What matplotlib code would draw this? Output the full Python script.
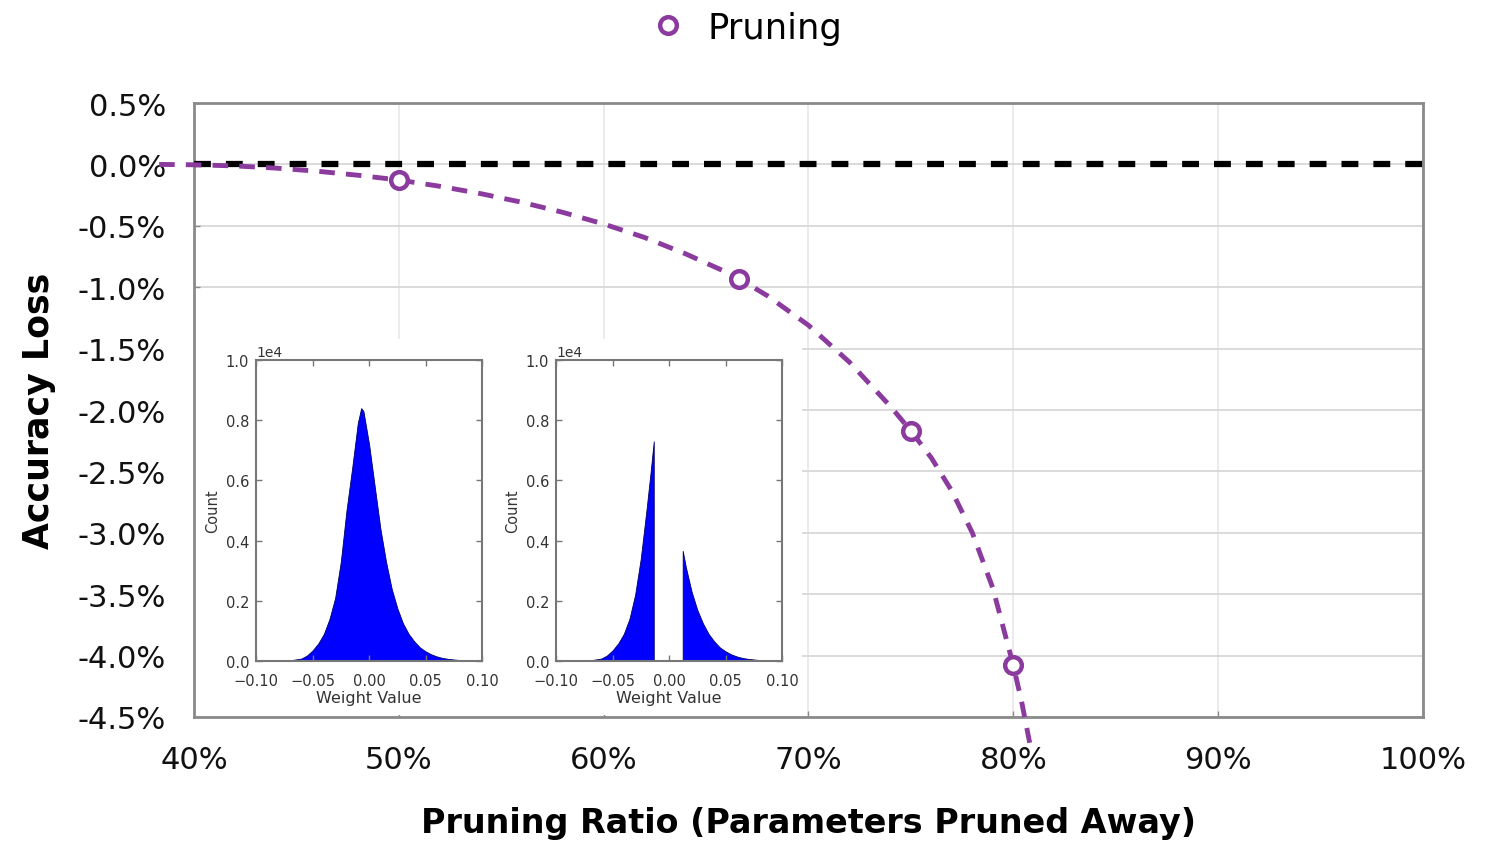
import matplotlib
matplotlib.use("Agg")
import matplotlib.pyplot as plt
from matplotlib.lines import Line2D
from matplotlib.patches import Rectangle

# ---------------- data ----------------
# measured pruning points (ratio %, accuracy loss %)
prune_ratio = [50.0, 66.6, 75.0, 80.0]
acc_loss = [-0.13, -0.93, -2.17, -4.08]

# dashed fitted trend curve
curve_ratio = [38.3, 40, 42, 44, 46, 48, 50, 52, 54, 56, 58, 60, 62, 64, 66, 66.6,
               68, 70, 72, 74, 75, 76, 77, 78, 79, 80, 80.4, 80.8]
curve_loss = [0.0, -0.003, -0.012, -0.03, -0.055, -0.088, -0.127, -0.178, -0.238, -0.308,
              -0.390, -0.485, -0.595, -0.728, -0.878, -0.93,
              -1.07, -1.31, -1.61, -1.97, -2.17, -2.39, -2.66, -3.00, -3.45, -4.08, -4.37, -4.71]

x_ticks = [40, 50, 60, 70, 80, 90, 100]
y_ticks = [0.5, 0.0, -0.5, -1.0, -1.5, -2.0, -2.5, -3.0, -3.5, -4.0, -4.5]

# inset 1: weight distribution before pruning (counts)
w_before = [-0.10, -0.07, -0.06, -0.055, -0.05, -0.045, -0.04, -0.035, -0.03, -0.025, -0.02,
            -0.015, -0.01, -0.007, -0.005, 0.0, 0.005, 0.01, 0.015, 0.02, 0.025, 0.03, 0.035,
            0.04, 0.045, 0.05, 0.055, 0.06, 0.065, 0.07, 0.08, 0.09, 0.10]
c_before = [0, 20, 80, 180, 350, 580, 900, 1400, 2100, 3300, 5000,
            6400, 7900, 8400, 8300, 7200, 5800, 4400, 3300, 2400, 1750, 1250, 900,
            650, 450, 320, 220, 150, 100, 70, 30, 10, 0]

# inset 2: weight distribution after pruning (two lobes)
w_after_neg = [-0.10, -0.07, -0.06, -0.055, -0.05, -0.045, -0.04, -0.035, -0.03, -0.025, -0.02,
               -0.0165, -0.0135]
c_after_neg = [0, 20, 80, 180, 350, 580, 900, 1400, 2200, 3400, 5000, 6200, 7300]
w_after_pos = [0.0121, 0.015, 0.02, 0.025, 0.03, 0.035, 0.04, 0.045, 0.05, 0.055, 0.06,
               0.065, 0.07, 0.08, 0.09, 0.10]
c_after_pos = [3660, 3100, 2300, 1700, 1250, 900, 650, 450, 320, 220, 150, 100, 70, 30, 10, 0]

# ---------------- style ----------------
purple = "#8B3A9E"
spine_c = "#8A8A8A"

plt.rcParams["font.family"] = ["DejaVu Sans"]

fig = plt.figure(figsize=(14.93, 8.45), dpi=100)
ax = fig.add_axes([0.1299, 0.1503, 0.8232, 0.7266])

ax.set_xlim(40, 100)
ax.set_ylim(-4.5, 0.5)
ax.set_xticks(x_ticks)
ax.set_xticklabels([f"{v}%" for v in x_ticks])
ax.set_yticks(y_ticks)
ax.set_yticklabels([f"{v:.1f}%" for v in y_ticks])
ax.tick_params(axis="both", labelsize=22, colors=spine_c, labelcolor="#111111",
               direction="in", length=4, width=1)
ax.tick_params(axis="y", pad=20)
ax.tick_params(axis="x", pad=20)
ax.yaxis.grid(True, color="#D8D8D8", linewidth=1.3, zorder=0)
ax.xaxis.grid(True, color="#E8E8E8", linewidth=1.2, zorder=0)
ax.set_axisbelow(True)
for s in ax.spines.values():
    s.set_color(spine_c)
    s.set_linewidth(2)

# white box behind insets hiding grid
ax.add_patch(Rectangle((0.001, 0.003), 0.4936, 0.6126, transform=ax.transAxes,
                       facecolor="white", edgecolor="none", zorder=1))

# zero reference line
ax.axhline(0, color="black", linewidth=4.5, dashes=(2.7, 2.4), zorder=3)

# trend curve and points
ax.plot(curve_ratio, curve_loss, color=purple, linewidth=3.5, dashes=(3.2, 2.3),
        clip_on=False, zorder=4)
ax.plot(prune_ratio, acc_loss, linestyle="none", marker="o", markersize=12,
        markerfacecolor="white", markeredgecolor=purple, markeredgewidth=3.2, zorder=5,
        clip_on=False)

ax.set_xlabel("Pruning Ratio (Parameters Pruned Away)", fontsize=24, fontweight="bold",
              labelpad=23)
ax.set_ylabel("Accuracy Loss", fontsize=25, fontweight="bold", labelpad=16)

# legend
handle = Line2D([], [], linestyle="none", marker="o", markersize=12, markerfacecolor="white",
                markeredgecolor=purple, markeredgewidth=3.2)
fig.legend([handle], ["Pruning"], loc="upper center", bbox_to_anchor=(0.494, 1.024),
           frameon=False, fontsize=25.5, handletextpad=0.1)

# ---------------- insets ----------------
def style_inset(a):
    a.set_xlim(-0.10, 0.10)
    a.set_ylim(0, 10000)
    a.set_xticks([-0.10, -0.05, 0.0, 0.05, 0.10])
    a.set_yticks([0, 2000, 4000, 6000, 8000, 10000])
    a.ticklabel_format(style="sci", axis="y", scilimits=(0, 0))
    a.yaxis.get_offset_text().set_fontsize(10)
    a.yaxis.get_offset_text().set_color("#333333")
    a.tick_params(axis="both", labelsize=10.5, direction="in", length=4, width=1,
                  colors="#777777", labelcolor="#333333", top=True, right=True)
    a.tick_params(axis="x", pad=9)
    a.tick_params(axis="y", pad=5)
    for s in a.spines.values():
        s.set_color("#777777")
        s.set_linewidth(1.5)
    a.set_xlabel("Weight Value", fontsize=11.5, color="#333333", labelpad=1)
    a.set_ylabel("Count", fontsize=10.5, color="#333333", labelpad=4)
    a.patch.set_alpha(0)

ax1 = fig.add_axes([0.1715, 0.2166, 0.1514, 0.3562], zorder=6)
ax1.fill_between(w_before, c_before, color="#0000FF", edgecolor="#000066", linewidth=0.6)
style_inset(ax1)

ax2 = fig.add_axes([0.3724, 0.2166, 0.1514, 0.3562], zorder=6)
ax2.fill_between(w_after_neg + [w_after_neg[-1]], c_after_neg + [0], color="#0000FF",
                 edgecolor="#000066", linewidth=0.6)
ax2.fill_between([w_after_pos[0]] + w_after_pos, [0] + c_after_pos, color="#0000FF",
                 edgecolor="#000066", linewidth=0.6)
style_inset(ax2)

fig.savefig("out.png", dpi=100, facecolor="white")
